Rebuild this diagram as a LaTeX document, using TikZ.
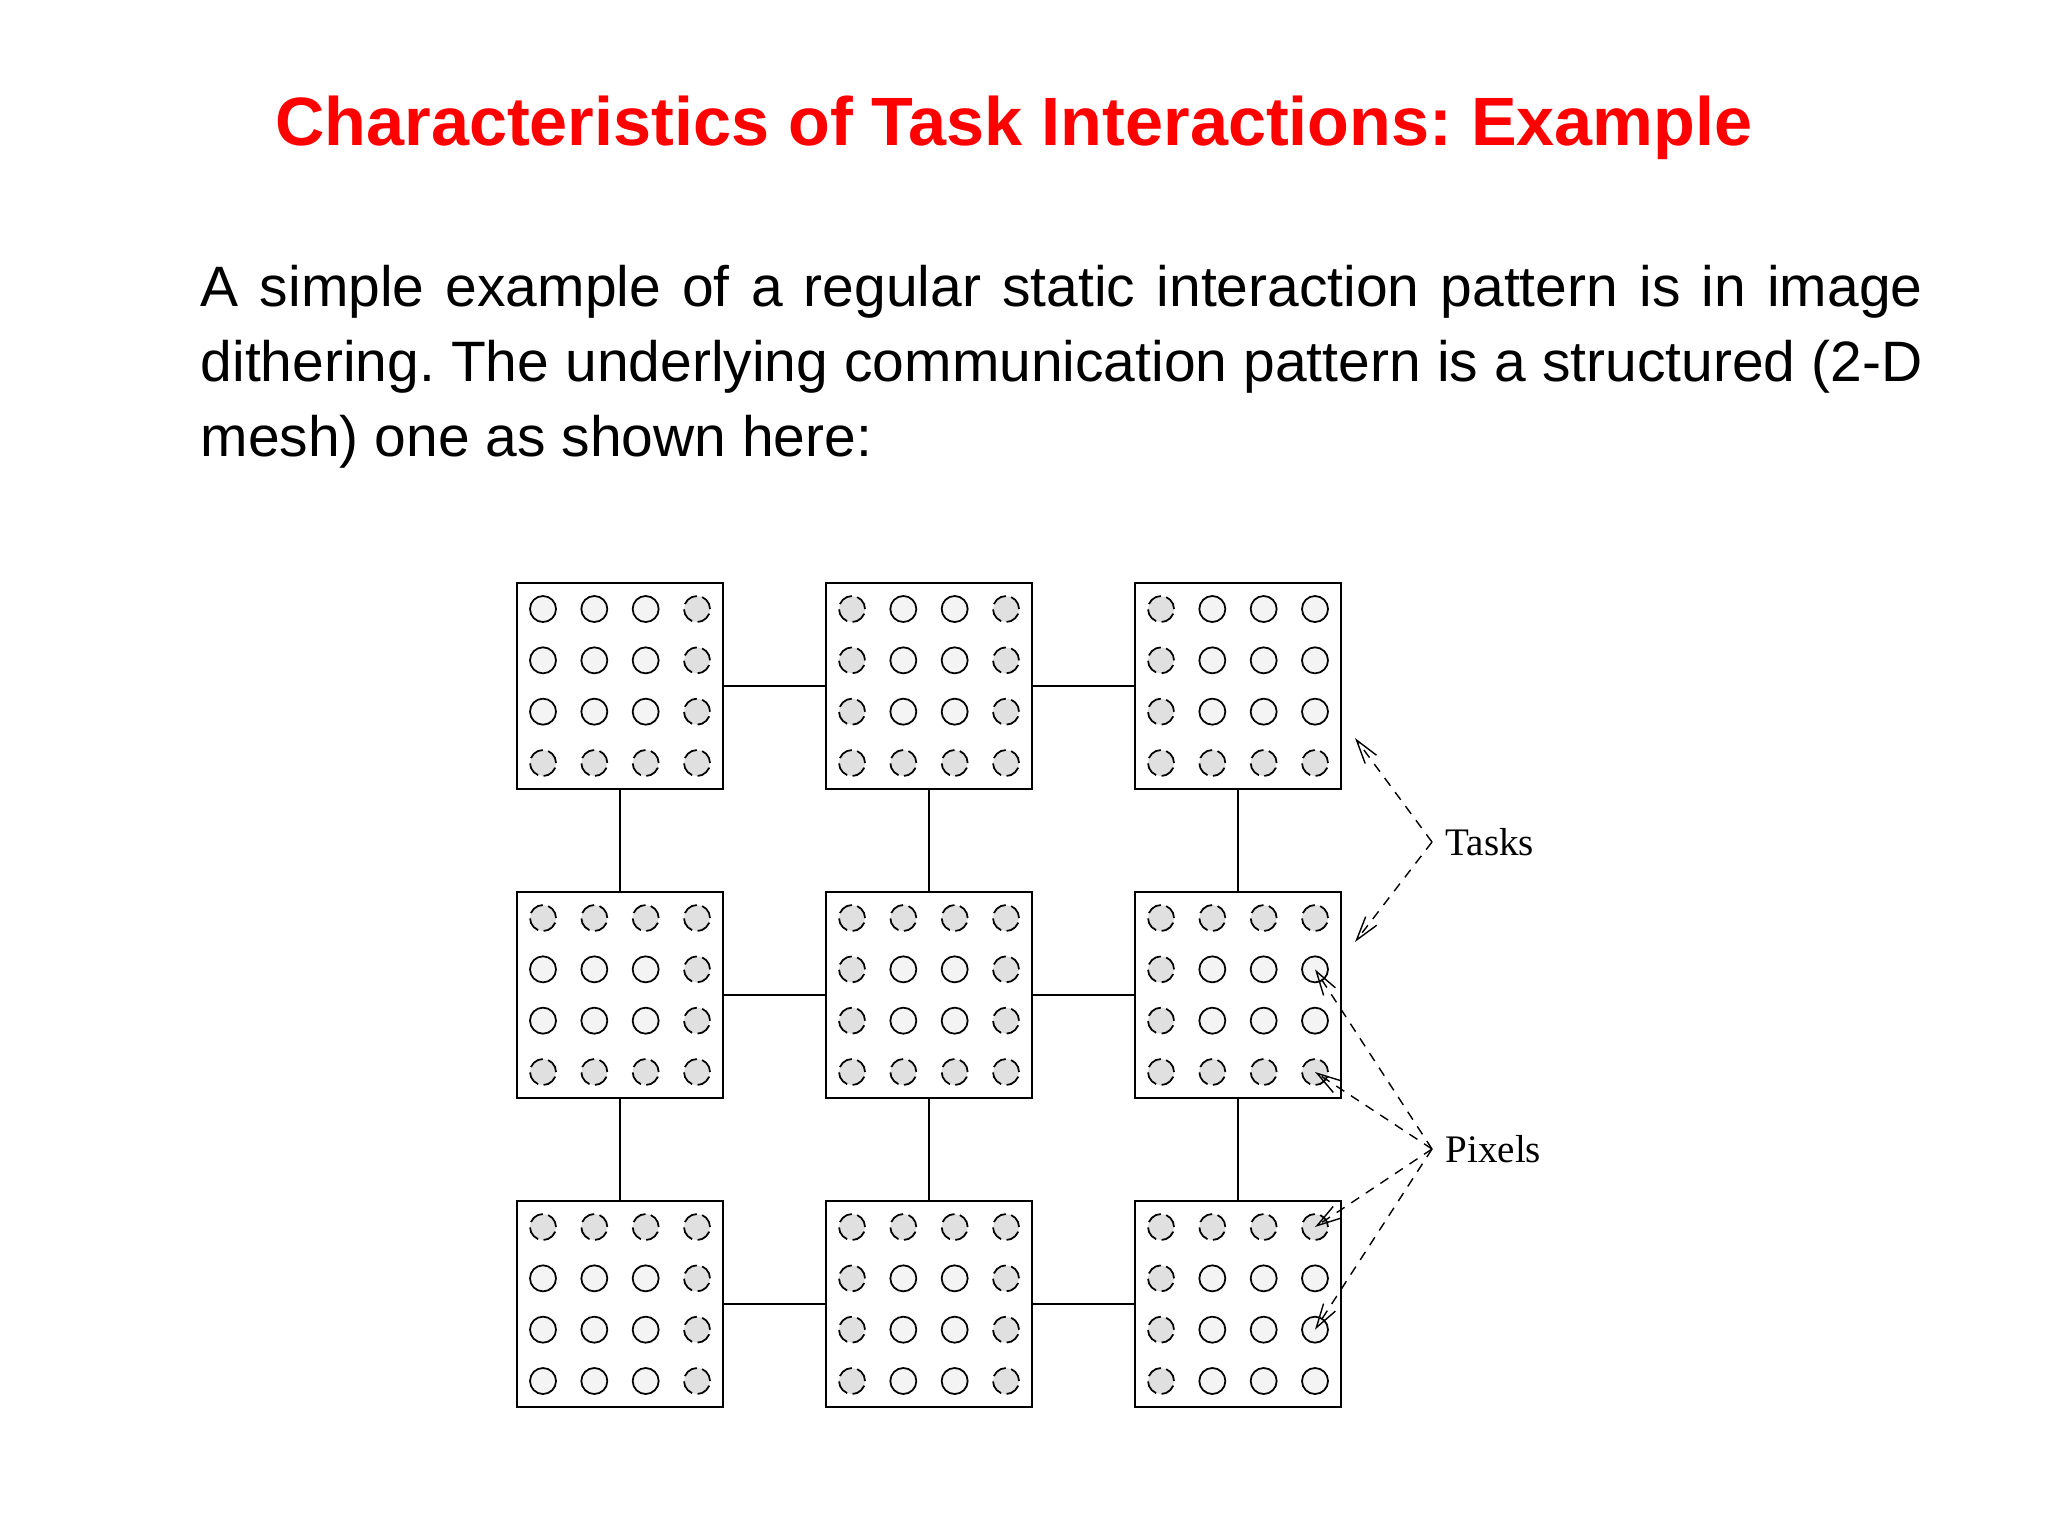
\documentclass[tikz,border=0pt]{standalone}
\usepackage{fontspec}
\setmainfont{Liberation Sans}
\newfontfamily\labelfont{Liberation Serif}
\usepackage{xcolor}
\usetikzlibrary{arrows.meta}
\setlength{\parindent}{0pt}
\frenchspacing

\tikzset{
    task/.style = {draw, line width = 0.55pt, minimum size = 2.06cm, inner sep = 0pt},
    pix/.style = {circle, draw, line width = 0.5pt, minimum size = 0.26cm, inner sep = 0pt, fill = gray!9},
    edgepix/.style = {pix, fill = gray!24, dash pattern = on 0.15cm off 0.055cm},
    link/.style = {line width = 0.55pt},
    pointer/.style = {line width = 0.4pt, dash pattern = on 0.095cm off 0.08cm,
        -{Straight Barb[length = 0.24cm, width = 0.14cm]}},
    tag/.style = {font = \labelfont\fontsize{11.1}{13}\selectfont, inner xsep = 0.13cm, inner ysep = 0pt, anchor = west}
}

\begin{document}
\begin{tikzpicture}[x = 0.01cm, y = -0.01cm]
    \useasboundingbox (0, 0) rectangle (2048, 1536);

    \node[anchor = base, text = red, font = \fontsize{19.45}{23}\selectfont\bfseries] (title) at (1014, 145)
    {Characteristics of Task Interactions: Example};
    \node[anchor = base west, text width = 17.21cm, align = justify, inner sep = 0pt,
        font = \fontsize{16.2}{21.3}\selectfont] (intro) at (200, 306.5)
    {A simple example of a regular static interaction pattern is in image\linebreak
    dithering. The underlying communication pattern is a structured (2-D\linebreak
    mesh) one as shown here:};

    \foreach \i in {1, 2, 3}
    \foreach \j in {1, 2, 3} {
        \node[task] (t\i\j) at ({311 + 309*\j}, {377 + 309*\i}) {};
        \foreach \r in {1, 2, 3, 4}
        \foreach \c in {1, 2, 3, 4} {
            \pgfmathtruncatemacro{\edge}{(\r == 1 && \i > 1) || (\r == 4 && \i < 3) || (\c == 1 && \j > 1) || (\c == 4 && \j < 3)}
            \ifnum\edge=1
                \node[edgepix] (p\i\j\r\c) at ([shift = {({51.33*(\c - 2.5)}, {51.33*(\r - 2.5)})}]t\i\j.center) {};
            \else
                \node[pix] (p\i\j\r\c) at ([shift = {({51.33*(\c - 2.5)}, {51.33*(\r - 2.5)})}]t\i\j.center) {};
            \fi
        }
    }

    \foreach \i in {1, 2, 3} {
        \draw[link] (t\i1) -- (t\i2) (t\i2) -- (t\i3);
        \draw[link] (t1\i) -- (t2\i) (t2\i) -- (t3\i);
    }

    \node[tag] (tasks) at (1432, 842) {Tasks};
    \coordinate (taskhi) at ([shift = {(13, -52)}]t13.south east);
    \coordinate (tasklo) at ([shift = {(13, 51)}]t23.north east);
    \draw[pointer] (tasks.west) -- (taskhi);
    \draw[pointer] (tasks.west) -- (tasklo);

    \node[tag] (pixels) at (1432, 1149) {Pixels};
    \foreach \p in {2324, 2344, 3314, 3334}
        \draw[pointer] (pixels.west) -- (p\p.center);
\end{tikzpicture}
\end{document}
